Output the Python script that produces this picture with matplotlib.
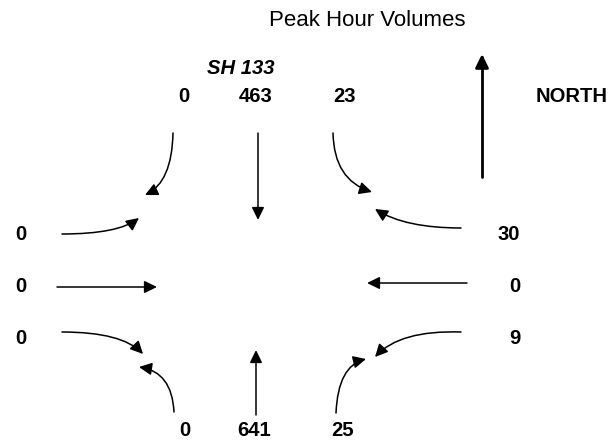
import matplotlib
matplotlib.use("Agg")
import matplotlib.pyplot as plt
from matplotlib.patches import FancyArrowPatch
from matplotlib.path import Path

plt.rcParams['font.family'] = ['Liberation Sans', 'DejaVu Sans']

# turning movement volumes (left, through, right as seen on the diagram)
south_bound = [0, 463, 23]      # top row
north_bound = [0, 641, 25]      # bottom row
east_bound = [0, 0, 0]          # left column, top to bottom
west_bound = [30, 0, 9]         # right column, top to bottom
title = "Peak Hour Volumes"
street = "SH 133"

fig = plt.figure(figsize=(6.13, 4.41), dpi=100)
ax = fig.add_axes([0, 0, 1, 1])
ax.set_xlim(0, 613)
ax.set_ylim(441, 0)
ax.axis('off')

num = dict(fontsize=14.6, fontweight='bold', ha='center', va='center')

ax.text(367, 21, title, fontsize=16, ha='center', va='center')
ax.text(241, 68, street, fontsize=14.6, fontweight='bold', style='italic', ha='center', va='center')
ax.text(572, 96, "NORTH", **num)

for x, v in zip([184, 256, 344], south_bound):
    ax.text(x, 96, str(v), **num)
for x, v in zip([185, 254, 343], north_bound):
    ax.text(x, 430, str(v), **num)
for y, v in zip([234, 287, 338], east_bound):
    ax.text(21, y, str(v), **num)
for y, v in zip([234, 287, 338], west_bound):
    ax.text(520, y, str(v), fontsize=14.6, fontweight='bold', ha='right', va='center')


def arrow(p0, p1, ctrl=None, lw=1.1, ms=17):
    if ctrl is None:
        path = Path([p0, p1], [Path.MOVETO, Path.LINETO])
    else:
        path = Path([p0, ctrl, p1], [Path.MOVETO, Path.CURVE3, Path.CURVE3])
    a = FancyArrowPatch(path=path, arrowstyle='-|>,head_length=0.45,head_width=0.22',
                        mutation_scale=ms, lw=lw, color='black')
    ax.add_patch(a)


# north arrow
arrow((482, 177), (482, 54), lw=2.0, ms=18)

# southbound approach (top)
arrow((173, 133), (145, 195), ctrl=(172, 182))
arrow((258, 133), (258, 220))
arrow((333, 133), (372, 192), ctrl=(334, 180))

# northbound approach (bottom)
arrow((174, 412), (139, 367), ctrl=(172, 372))
arrow((256, 415), (256, 350))
arrow((336, 413), (366, 359), ctrl=(338, 366))

# eastbound approach (left)
arrow((62, 234), (139, 218), ctrl=(118, 234))
arrow((57, 287), (157, 287))
arrow((62, 332), (143, 354), ctrl=(122, 332))

# westbound approach (right)
arrow((461, 228), (375, 209), ctrl=(405, 228))
arrow((467, 283), (367, 283))
arrow((461, 332), (375, 357), ctrl=(400, 330))

fig.savefig("out.png", dpi=100)
